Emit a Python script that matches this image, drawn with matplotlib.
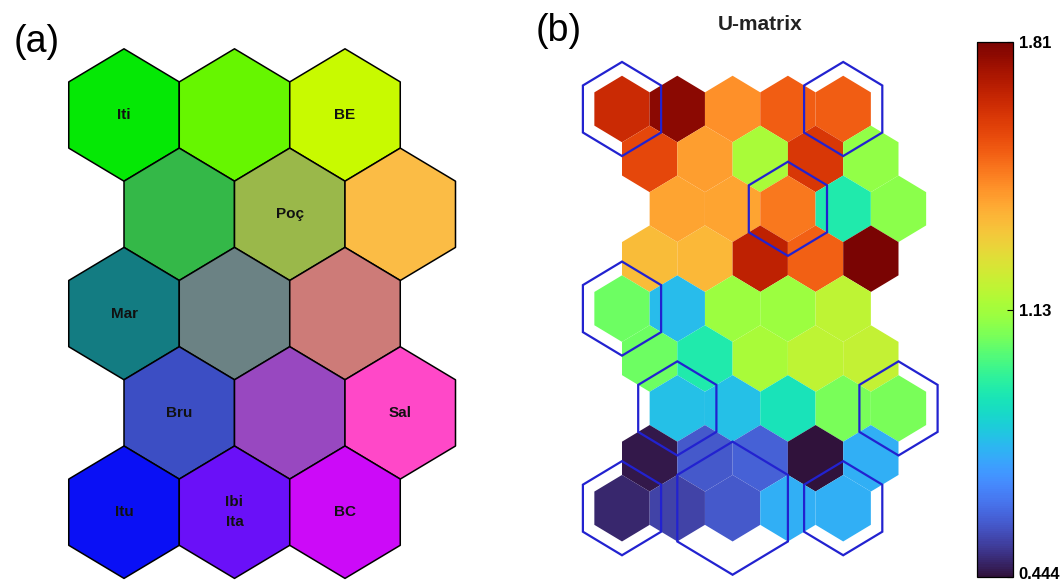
import numpy as np
import matplotlib
matplotlib.use("Agg")
import matplotlib.pyplot as plt
from matplotlib.collections import PolyCollection
from matplotlib.colors import Normalize
from matplotlib.transforms import ScaledTranslation

plt.rcParams["font.family"] = ["Liberation Sans", "DejaVu Sans"]

# ---------------------------------------------------------------- data
# SOM of 5 x 3 hexagonal units, colour-coded by position
unit_colors = [
    ["#05e805", "#66f600", "#c8fa00"],
    ["#34b848", "#9ab84a", "#fbbc45"],
    ["#137c82", "#6b8284", "#cd7b78"],
    ["#3c4ec4", "#9848c0", "#ff48c8"],
    ["#0a10f5", "#6a10f8", "#cc0af8"],
]

# sampling sites and their best-matching unit (row, column)
sites = ["Iti", "BE", "Poç", "Mar", "Bru", "Sal", "Itu", "Ibi", "Ita", "BC"]
bmu_row = [0, 0, 1, 2, 3, 3, 4, 4, 4, 4]
bmu_col = [0, 2, 1, 0, 0, 2, 0, 1, 1, 2]

# U-matrix (9 x 5) distances
umatrix = [
    [1.660, 1.783, 1.441, 1.530, 1.530],
    [1.578, 1.414, 1.141, 1.619, 1.100],
    [1.400, 1.400, 1.482, 0.922, 1.086],
    [1.346, 1.359, 1.687, 1.523, 1.810],
    [1.045, 0.786, 1.113, 1.113, 1.182],
    [1.045, 0.922, 1.141, 1.182, 1.195],
    [0.800, 0.800, 0.895, 1.059, 1.059],
    [0.458, 0.581, 0.594, 0.444, 0.760],
    [0.485, 0.540, 0.581, 0.760, 0.760],
]
cbar_ticks = [0.444, 1.127, 1.81]
cbar_labels = ["0.444", "1.13", "1.81"]

# ---------------------------------------------------------------- helpers
W, H = 1064, 583
fig = plt.figure(figsize=(W / 100, H / 100), dpi=100)
ROW = np.sqrt(3) / 2


def axes_px(left, top, right, bottom):
    return fig.add_axes([left / W, 1 - bottom / H, (right - left) / W, (bottom - top) / H])


def hexagon(cx, cy, width):
    r = width / np.sqrt(3)
    ang = np.deg2rad(90 + 60 * np.arange(6))
    return np.column_stack([cx + r * np.cos(ang), cy + r * np.sin(ang)])


def set_px_limits(ax, box, origin, col_px, row_px):
    left, top, right, bottom = box
    ox, oy = origin
    ax.set_xlim((left - ox) / col_px, (right - ox) / col_px)
    ax.set_ylim((bottom - oy) / row_px * ROW, (top - oy) / row_px * ROW)
    ax.set_axis_off()


# ---------------------------------------------------------------- (a) map
box_a = (40, 40, 480, 583)
ax_a = axes_px(*box_a)
set_px_limits(ax_a, box_a, origin=(124, 115), col_px=110.5, row_px=99.3)

n_rows, n_cols = len(unit_colors), len(unit_colors[0])
polys, cols = [], []
for r in range(n_rows):
    for c in range(n_cols):
        polys.append(hexagon(c + 0.5 * (r % 2), r * ROW, 1.0))
        cols.append(unit_colors[r][c])
ax_a.add_collection(PolyCollection(polys, facecolors=cols, edgecolors="black",
                                   linewidths=1.1))

unit_names = {}
for name, r, c in zip(sites, bmu_row, bmu_col):
    unit_names.setdefault((r, c), []).append(name)
for (r, c), names in unit_names.items():
    ax_a.text(c + 0.5 * (r % 2), r * ROW, "\n".join(names), ha="center",
              va="center", fontsize=11, fontweight="bold", color="#111111",
              linespacing=1.5)

fig.text(37 / W, 1 - 42 / H, "(a)", fontsize=27, ha="center", va="center")

# ---------------------------------------------------------------- (b) U-matrix
box_b = (560, 40, 965, 583)
ax_b = axes_px(*box_b)
set_px_limits(ax_b, box_b, origin=(622, 109), col_px=55.3, row_px=49.9)

U = np.asarray(umatrix)
# horizontal shift of each U-matrix row so that unit rows line up with the map
row_shift = [0.5 if k % 2 else (1.0 if (k // 2) % 2 else 0.0)
             for k in range(U.shape[0])]
polys, vals = [], []
for k in range(U.shape[0]):
    for j in range(U.shape[1]):
        polys.append(hexagon(j + row_shift[k], k * ROW, 1.0))
        vals.append(U[k, j])
norm = Normalize(vmin=0.444, vmax=1.81)
pc = PolyCollection(polys, array=np.asarray(vals), cmap="turbo", norm=norm,
                    edgecolors="none")
ax_b.add_collection(pc)

# hit markers: hexagon size grows with the number of sites on a unit
max_hits = max(len(v) for v in unit_names.values())
for (r, c), names in unit_names.items():
    size = 2.0 * np.sqrt(len(names) / max_hits)
    verts = hexagon(2 * c + (r % 2), 2 * r * ROW, size)
    ax_b.add_patch(plt.Polygon(verts, closed=True, fill=False,
                               edgecolor="#2222d0", linewidth=1.6))

fig.text(760 / W, 1 - 24 / H, "U-matrix", fontsize=15, fontweight="bold",
         ha="center", va="center", color="#222222")
fig.text(559 / W, 1 - 31 / H, "(b)", fontsize=27, ha="center", va="center")

# ---------------------------------------------------------------- colour bar
cax = axes_px(977, 42, 1013, 577)
cb = fig.colorbar(pc, cax=cax, ticks=cbar_ticks)
cb.ax.set_yticklabels(cbar_labels)
cb.ax.tick_params(direction="in", length=4, width=0.8, labelsize=12, pad=4)
labels = cb.ax.get_yticklabels()
for lab in labels:
    lab.set_fontweight("bold")
# lift the lowest label slightly so it stays inside the figure
labels[0].set_transform(labels[0].get_transform()
                        + ScaledTranslation(0, 4 / 100, fig.dpi_scale_trans))
cb.outline.set_linewidth(0.9)

fig.savefig("out.png", dpi=100, facecolor="white")
